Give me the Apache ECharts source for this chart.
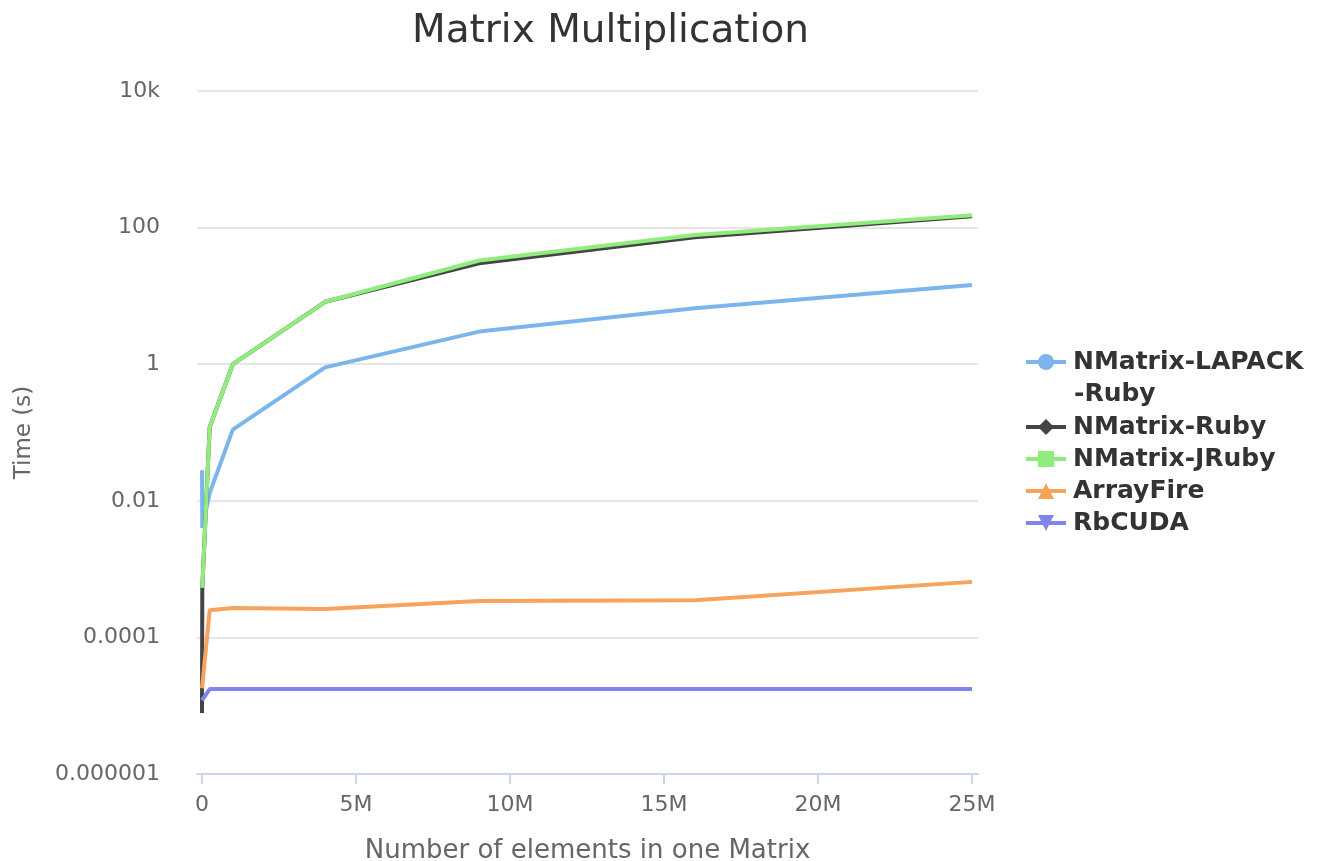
<!DOCTYPE html>
<html>
<head>
<meta charset="utf-8">
<script src="https://cdn.jsdelivr.net/npm/echarts@6/dist/echarts.min.js"></script>
<style>html,body{margin:0;padding:0;background:#fff}#c{width:1327px;height:861px}</style>
</head>
<body>
<div id="c"></div>
<script>
// Number of elements in one matrix
var xValues = [100, 10000, 250000, 1000000, 4000000, 9000000, 16000000, 25000000];
var seriesNames = ['NMatrix-LAPACK-Ruby', 'NMatrix-Ruby', 'NMatrix-JRuby', 'ArrayFire', 'RbCUDA'];
var lapackRuby = [0.028, 0.004, 0.013, 0.11, 0.9, 3.0, 6.6, 14.4];
var nmatrixRuby = [7.8e-6, 5.3e-4, 0.12, 1.0, 8.2, 30, 72, 147];
var nmatrixJRuby = [null, 5.3e-4, 0.12, 1.0, 8.2, 33, 78, 152];
var arrayFire = [1.8e-5, null, 2.5e-4, 2.7e-4, 2.6e-4, 3.4e-4, 3.5e-4, 6.5e-4];
var rbCuda = [1.2e-5, null, 1.75e-5, 1.75e-5, 1.75e-5, 1.75e-5, 1.75e-5, 1.75e-5];
var xTicks = [0, 5000000, 10000000, 15000000, 20000000, 25000000];
var colors = ['#7cb5ec', '#434348', '#90ed7d', '#f7a35c', '#8085e9'];
var symbols = ['circle', 'diamond', 'rect', 'triangle', 'path://M0,0 L10,0 L5,10 Z'];
var allData = [lapackRuby, nmatrixRuby, nmatrixJRuby, arrayFire, rbCuda];

function pairs(arr) {
  var out = [];
  for (var i = 0; i < xValues.length; i++) {
    if (arr[i] !== null) out.push([xValues[i], arr[i]]);
  }
  return out;
}

function yFmt(v) {
  var e = Math.round(Math.log10(v));
  if (e >= 3) return Math.pow(10, e - 3) + 'k';
  if (e >= 0) return String(Math.pow(10, e));
  return '0.' + '0'.repeat(-e - 1) + '1';
}

var FONT = 'DejaVu Sans';
var legendText = { fontFamily: FONT, fontSize: 25, fontWeight: 'bold', color: '#333333', lineHeight: 32, padding: [0, 0, 0, 2] };
var legendCommon = {
  orient: 'vertical',
  left: 1019,
  itemWidth: 40, itemHeight: 20, itemGap: 0,
  lineStyle: { width: 4 },
  textStyle: legendText
};
var chart = echarts.init(document.getElementById('c'));
chart.setOption({
  animation: false,
  color: colors,
  title: {
    text: 'Matrix Multiplication',
    left: 407, top: 7,
    textStyle: { fontFamily: FONT, fontSize: 39, fontWeight: 'normal', color: '#333333' }
  },
  grid: { left: 197, right: 349, top: 91, bottom: 87, containLabel: false, outerBoundsMode: 'none' },
  legend: [
    Object.assign({}, legendCommon, {
      top: 341,
      data: [seriesNames[0]],
      formatter: function () { return 'NMatrix-LAPACK'; }
    }),
    Object.assign({}, legendCommon, {
      top: 406,
      data: seriesNames.slice(1)
    })
  ],
  graphic: [{
    type: 'text',
    left: 1074, top: 382,
    style: { text: '-Ruby', font: 'bold 25px "DejaVu Sans"', fill: '#333333' }
  }],
  xAxis: {
    type: 'value',
    min: -162000, max: 25195000,
    name: 'Number of elements in one Matrix',
    nameLocation: 'middle', nameGap: 64,
    nameTextStyle: { fontFamily: FONT, fontSize: 26, color: '#666666' },
    axisLine: { show: true, lineStyle: { color: '#ccd6eb', width: 2 } },
    axisTick: { show: true, customValues: xTicks, length: 10, lineStyle: { color: '#ccd6eb', width: 2 } },
    axisLabel: {
      customValues: xTicks, margin: 20,
      fontFamily: FONT, fontSize: 22, color: '#666666',
      formatter: function (v) { return v === 0 ? '0' : (v / 1e6) + 'M'; }
    },
    splitLine: { show: false }
  },
  yAxis: {
    type: 'log', logBase: 100,
    min: 1e-6, max: 1e4,
    name: 'Time (s)',
    nameLocation: 'middle', nameGap: 161,
    nameTextStyle: { fontFamily: FONT, fontSize: 23, color: '#666666' },
    axisLine: { show: false },
    axisTick: { show: false },
    axisLabel: { fontFamily: FONT, fontSize: 22, color: '#666666', margin: 37, formatter: yFmt },
    splitLine: { show: true, lineStyle: { color: '#e6e6e6', width: 2 } }
  },
  series: allData.map(function (arr, i) {
    return {
      name: seriesNames[i],
      type: 'line',
      data: pairs(arr),
      symbol: symbols[i],
      symbolSize: 17,
      showSymbol: false,
      lineStyle: { width: 4, color: colors[i] },
      itemStyle: { color: colors[i] },
      emphasis: { disabled: true }
    };
  })
});
</script>
</body>
</html>
